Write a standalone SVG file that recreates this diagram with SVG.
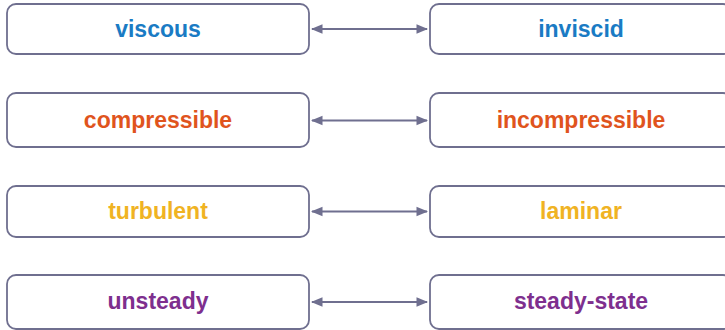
<svg xmlns="http://www.w3.org/2000/svg" width="725" height="330" viewBox="0 0 725 330">
<defs>
<style>
.box{fill:#fff;stroke:#6f6f8f;stroke-width:1.8}
.t{font-family:"Liberation Sans",Arial,sans-serif;font-weight:bold;font-size:23px;text-anchor:middle}
.c{stroke:#6f6f8f;stroke-width:1.8;fill:none;marker-start:url(#ah);marker-end:url(#ah)}
</style>
<marker id="ah" viewBox="0 0 10 10" refX="9" refY="5" markerWidth="6.5" markerHeight="6.5" orient="auto-start-reverse" markerUnits="strokeWidth">
<path d="M0,1 L10,5 L0,9 z" fill="#6f6f8f"/>
</marker>
</defs>
<rect width="725" height="330" fill="#fff"/>
<g id="viscous"><rect class="box" x="7" y="4" width="302" height="50" rx="9"/><text class="t" x="158" y="37" fill="#1a7bc4">viscous</text></g>
<g id="inviscid"><rect class="box" x="430" y="4" width="302" height="50" rx="9"/><text class="t" x="581" y="37" fill="#1a7bc4">inviscid</text></g>
<g id="compressible"><rect class="box" x="7" y="93" width="302" height="54" rx="9"/><text class="t" x="158" y="128" fill="#e0541d">compressible</text></g>
<g id="incompressible"><rect class="box" x="430" y="93" width="302" height="54" rx="9"/><text class="t" x="581" y="128" fill="#e0541d">incompressible</text></g>
<g id="turbulent"><rect class="box" x="7" y="186" width="302" height="51" rx="9"/><text class="t" x="158" y="219" fill="#f0b323">turbulent</text></g>
<g id="laminar"><rect class="box" x="430" y="186" width="302" height="51" rx="9"/><text class="t" x="581" y="219" fill="#f0b323">laminar</text></g>
<g id="unsteady"><rect class="box" x="7" y="275" width="302" height="54" rx="9"/><text class="t" x="158" y="309" fill="#7e2f8e">unsteady</text></g>
<g id="steady-state"><rect class="box" x="430" y="275" width="302" height="54" rx="9"/><text class="t" x="581" y="309" fill="#7e2f8e">steady-state</text></g>
<g id="connectors">
<line class="c" x1="312" y1="29" x2="427" y2="29"/>
<line class="c" x1="312" y1="120.5" x2="427" y2="120.5"/>
<line class="c" x1="312" y1="211.5" x2="427" y2="211.5"/>
<line class="c" x1="312" y1="302" x2="427" y2="302"/>
</g>
</svg>
